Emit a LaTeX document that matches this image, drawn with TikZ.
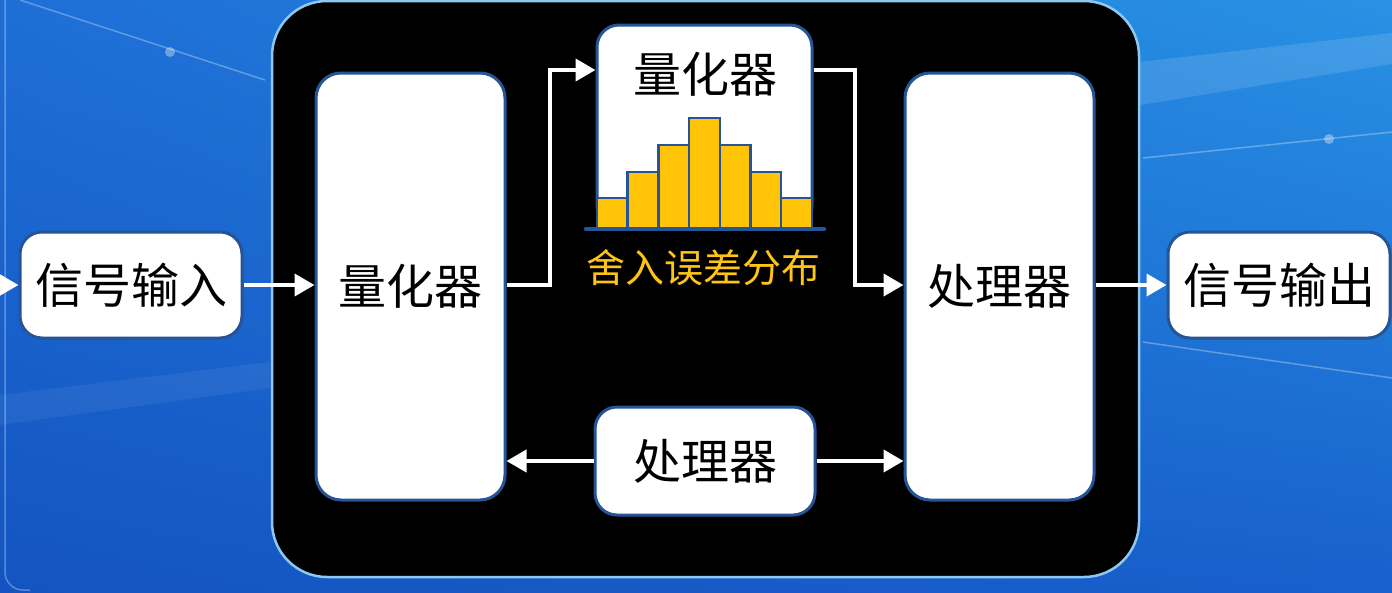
\documentclass[tikz,border=0pt]{standalone}
\usepackage{fontspec}
\newfontfamily\cjk{Noto Sans CJK SC}
\usepackage{tikz}
\usetikzlibrary{arrows.meta, shadings}
\definecolor{bgTopLeft}{RGB}{30,110,214}
\definecolor{bgTopRight}{RGB}{40,146,228}
\definecolor{bgBottomLeft}{RGB}{20,84,192}
\definecolor{bgBottomRight}{RGB}{24,96,204}
\definecolor{panelEdge}{RGB}{142,200,240}
\definecolor{boxEdge}{RGB}{38,84,150}
\definecolor{barGold}{RGB}{255,196,8}
\definecolor{textGold}{RGB}{255,196,20}

\begin{document}
\begin{tikzpicture}[x=1pt, y=-1pt,
    blockBox/.style={draw=boxEdge, line width=3pt, fill=white, rounded corners=22pt,
      inner sep=0pt, font=\cjk\fontsize{48}{52}\selectfont},
    flow/.style={white, line width=4pt, -{Triangle[length=20pt,width=22pt]}},
    streak/.style={white, opacity=0.3, line width=1.5pt}]
      \useasboundingbox (0,0) rectangle (1392,592);

      % Background
      \shade[upper left=bgTopLeft, upper right=bgTopRight,
             lower left=bgBottomLeft, lower right=bgBottomRight] (0,0) rectangle (1392,592);
      \fill[white, opacity=0.12] (1140,62) -- (1392,33) -- (1392,64) -- (1140,105) -- cycle;
      \fill[white, opacity=0.06] (0,395) -- (270,362) -- (270,388) -- (0,425) -- cycle;
      \draw[streak] (20,0) -- (265,80);
      \fill[white, opacity=0.35] (170,52) circle (5);
      \draw[streak] (1143,158) -- (1392,132);
      \fill[white, opacity=0.35] (1329,139) circle (5);
      \draw[streak] (1143,342) -- (1392,378);
      \draw[streak, rounded corners=18pt] (5,0) -- (5,590) -- (30,590);

      % Black panel
      \draw[panelEdge, line width=2.5pt, fill=black, rounded corners=55pt]
        (272,1) rectangle (1139,577);

      % Blocks
      \node[blockBox, minimum width=222, minimum height=106] (sigIn) at (131,285) {信号输入};
      \node[blockBox, rounded corners=25pt, minimum width=189, minimum height=427] (qBig) at (410.5,286.5) {量化器};
      \node[blockBox, rounded corners=25pt, minimum width=189, minimum height=427] (procBig) at (999.5,286.5) {处理器};
      \node[blockBox, minimum width=222, minimum height=106] (sigOut) at (1279,285) {信号输出};
      \node[blockBox, minimum width=220, minimum height=108] (procSmall) at (705,461) {处理器};

      % Quantizer with error histogram
      \node[blockBox, minimum width=215, minimum height=203] (qTop) at (704.5,126.5) {};
      \node[font=\cjk\fontsize{48}{52}\selectfont] (qTopText) at (705,74) {量化器};
      \foreach \h [count=\i from 0] in {30,56,83,110,83,56,30}
        \draw[boxEdge, line width=2.5pt, fill=barGold] ({597+\i*30.7},228) rectangle ++(30.7,-\h);
      \draw[boxEdge, line width=4.5pt, line cap=round] (586,229) -- (824,229);
      \node[font=\cjk\fontsize{39}{42}\selectfont, text=textGold] (errText) at (703,268) {舍入误差分布};

      % Connectors
      \coordinate (inStart) at (0,285);
      \coordinate (upTurn) at (550,70);
      \coordinate (downTurn) at (855,285);
      \draw[flow] (inStart) -- (sigIn.west);
      \draw[flow] (sigIn.east) -- (qBig.west |- sigIn.east);
      \draw[flow] (qBig.east |- sigIn.east) -| (upTurn) -- (qTop.west |- upTurn);
      \draw[flow] (qTop.east |- upTurn) -| (downTurn) -- (procBig.west |- downTurn);
      \draw[flow] (procBig.east |- sigOut.west) -- (sigOut.west);
      \draw[flow] (procSmall.west) -- (qBig.east |- procSmall.west);
      \draw[flow] (procSmall.east) -- (procBig.west |- procSmall.east);
    \end{tikzpicture}
\end{document}
